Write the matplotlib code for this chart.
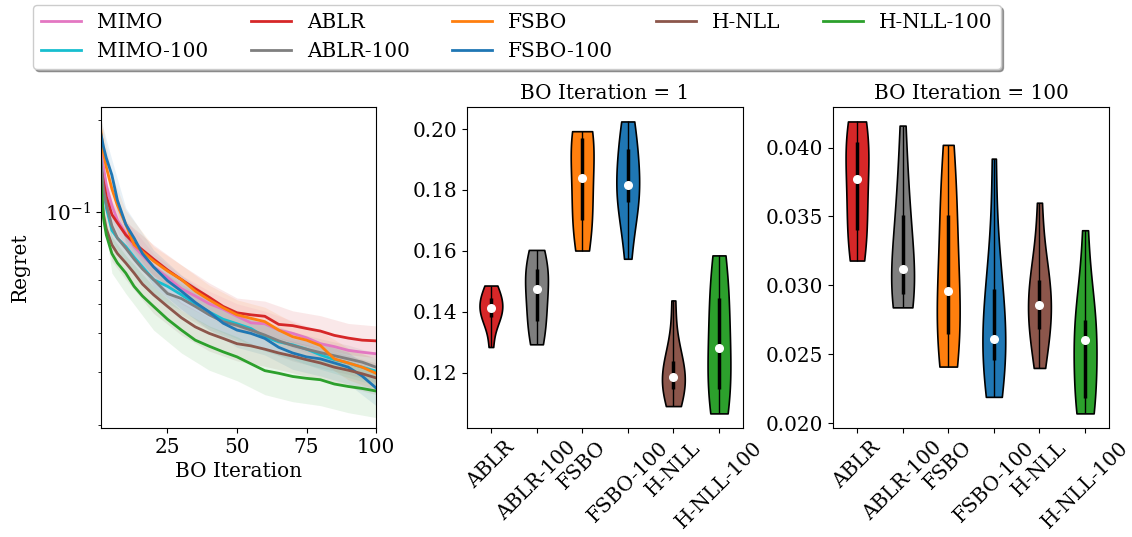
import numpy as np
import matplotlib
matplotlib.use('Agg')
import matplotlib.pyplot as plt
from matplotlib.ticker import NullFormatter, FormatStrFormatter

plt.rcParams['font.family'] = 'DejaVu Serif'
plt.rcParams['mathtext.fontset'] = 'dejavuserif'
plt.rcParams['font.size'] = 14.4

# methods and colours
methods = ['MIMO', 'MIMO-100', 'ABLR', 'ABLR-100', 'FSBO', 'FSBO-100', 'H-NLL', 'H-NLL-100']
colors = ['tab:pink', 'tab:cyan', 'tab:red', 'tab:gray', 'tab:orange', 'tab:blue', 'tab:brown', 'tab:green']

# regret curves (mean over tasks), read at these BO iterations
iters = np.array([1, 2, 3, 5, 7, 10, 13, 16, 20, 25, 30, 35, 40, 45, 50, 55, 60, 65, 70, 75, 80, 85, 90, 95, 100])
mimo = [0.158, 0.140, 0.122, 0.105, 0.094, 0.085, 0.077, 0.072, 0.066, 0.061, 0.056, 0.053, 0.050, 0.048, 0.0455,
        0.0433, 0.043, 0.041, 0.040, 0.0387, 0.037, 0.0362, 0.0352, 0.0347, 0.0343]
mimo_100 = [0.150, 0.118, 0.103, 0.087, 0.082, 0.077, 0.071, 0.066, 0.060, 0.057, 0.0535, 0.050, 0.047, 0.0445, 0.043,
            0.0415, 0.039, 0.0375, 0.0367, 0.0355, 0.034, 0.0328, 0.032, 0.031, 0.0301]
ablr = [0.141, 0.125, 0.112, 0.098, 0.092, 0.084, 0.079, 0.075, 0.070, 0.0645, 0.060, 0.056, 0.0525, 0.049, 0.0467,
        0.046, 0.0455, 0.0428, 0.0424, 0.0415, 0.0407, 0.0394, 0.0386, 0.038, 0.0378]
ablr_100 = [0.147, 0.118, 0.106, 0.090, 0.082, 0.076, 0.070, 0.065, 0.060, 0.054, 0.052, 0.049, 0.046, 0.0437, 0.0425,
            0.041, 0.0395, 0.0378, 0.0365, 0.0355, 0.0346, 0.0338, 0.033, 0.0322, 0.031]
fsbo = [0.186, 0.155, 0.140, 0.119, 0.105, 0.091, 0.078, 0.074, 0.069, 0.064, 0.060, 0.055, 0.0515, 0.0485, 0.046,
        0.0448, 0.0437, 0.041, 0.039, 0.038, 0.0365, 0.033, 0.032, 0.031, 0.0296]
fsbo_100 = [0.181, 0.163, 0.150, 0.132, 0.109, 0.091, 0.082, 0.073, 0.066, 0.0595, 0.055, 0.0505, 0.047, 0.0432, 0.041,
            0.040, 0.0385, 0.036, 0.0345, 0.0335, 0.033, 0.032, 0.031, 0.029, 0.0265]
hnll = [0.120, 0.098, 0.088, 0.078, 0.073, 0.068, 0.063, 0.058, 0.0535, 0.049, 0.045, 0.042, 0.040, 0.0385, 0.037,
        0.0364, 0.0355, 0.0345, 0.0337, 0.0328, 0.032, 0.031, 0.0303, 0.0295, 0.0286]
hnll_100 = [0.129, 0.095, 0.084, 0.073, 0.068, 0.063, 0.057, 0.053, 0.049, 0.0445, 0.041, 0.038, 0.0363, 0.0348, 0.0335,
            0.0318, 0.0302, 0.0296, 0.0289, 0.0285, 0.0282, 0.0273, 0.0268, 0.0264, 0.0259]
curves = [mimo, mimo_100, ablr, ablr_100, fsbo, fsbo_100, hnll, hnll_100]

# half-width of the shaded band at a subset of iterations
band_iters = np.array([1, 5, 10, 20, 30, 40, 50, 60, 70, 80, 90, 100])
band_err = [
    [0.015, 0.011, 0.009, 0.007, 0.006, 0.005, 0.0045, 0.0043, 0.004, 0.0038, 0.0036, 0.0035],
    [0.014, 0.010, 0.008, 0.007, 0.006, 0.005, 0.0045, 0.004, 0.0038, 0.0035, 0.0033, 0.0031],
    [0.010, 0.010, 0.009, 0.008, 0.007, 0.006, 0.0055, 0.0055, 0.005, 0.005, 0.0045, 0.0045],
    [0.012, 0.010, 0.008, 0.007, 0.006, 0.005, 0.0046, 0.0043, 0.004, 0.0038, 0.0036, 0.0034],
    [0.018, 0.013, 0.010, 0.008, 0.007, 0.006, 0.0055, 0.005, 0.0045, 0.0042, 0.0038, 0.0035],
    [0.020, 0.016, 0.012, 0.009, 0.007, 0.006, 0.005, 0.0045, 0.004, 0.004, 0.0037, 0.0033],
    [0.012, 0.009, 0.008, 0.007, 0.0055, 0.005, 0.0045, 0.0043, 0.004, 0.0038, 0.0036, 0.0034],
    [0.015, 0.010, 0.009, 0.008, 0.0065, 0.006, 0.0055, 0.005, 0.005, 0.005, 0.0048, 0.0047],
]

# regret per task at iteration 1 and 100, for the violins
violin_methods = ['ABLR', 'ABLR-100', 'FSBO', 'FSBO-100', 'H-NLL', 'H-NLL-100']
violin_colors = ['tab:red', 'tab:gray', 'tab:orange', 'tab:blue', 'tab:brown', 'tab:green']
regret_iter1 = [
    [0.1284, 0.1365, 0.1378, 0.1395, 0.1405, 0.1419, 0.1435, 0.1450, 0.1462, 0.1486],
    [0.1293, 0.1335, 0.1358, 0.1400, 0.1462, 0.1485, 0.1520, 0.1545, 0.1565, 0.1603],
    [0.1601, 0.1660, 0.1690, 0.1740, 0.1810, 0.1866, 0.1950, 0.1977, 0.1985, 0.1993],
    [0.1574, 0.1700, 0.1752, 0.1785, 0.1805, 0.1827, 0.1880, 0.1952, 0.1985, 0.2025],
    [0.1090, 0.1120, 0.1140, 0.1170, 0.1178, 0.1190, 0.1215, 0.1248, 0.1290, 0.1437],
    [0.1066, 0.1100, 0.1130, 0.1190, 0.1250, 0.1314, 0.1400, 0.1458, 0.1520, 0.1585],
]
regret_iter100 = [
    [0.0318, 0.0330, 0.0337, 0.0350, 0.0370, 0.0384, 0.0400, 0.0405, 0.0412, 0.0419],
    [0.0284, 0.0289, 0.0292, 0.0298, 0.0308, 0.0316, 0.0340, 0.0355, 0.0375, 0.0416],
    [0.0241, 0.0255, 0.0262, 0.0272, 0.0290, 0.0302, 0.0340, 0.0355, 0.0375, 0.0402],
    [0.0219, 0.0235, 0.0244, 0.0252, 0.0258, 0.0264, 0.0288, 0.0300, 0.0320, 0.0392],
    [0.0240, 0.0258, 0.0265, 0.0277, 0.0283, 0.0289, 0.0300, 0.0305, 0.0318, 0.0360],
    [0.0207, 0.0212, 0.0216, 0.0225, 0.0255, 0.0265, 0.0270, 0.0276, 0.0290, 0.0340],
]

fig = plt.figure(figsize=(11.32, 5.37), dpi=100)
ax1 = fig.add_axes([0.089, 0.203, 0.2432, 0.598])
ax2 = fig.add_axes([0.4125, 0.203, 0.2438, 0.598])
ax3 = fig.add_axes([0.7359, 0.203, 0.2438, 0.598])

#%% regret curves
mask = np.isin(iters, band_iters)
for name, col, y, err in zip(methods, colors, curves, band_err):
    y = np.array(y)
    err = np.array(err)
    ax1.plot(iters, y, color=col, lw=2, label=name)
    ax1.fill_between(band_iters, y[mask] - err, y[mask] + err, color=col, alpha=0.1, lw=0)
ax1.set_yscale('log')
ax1.set_xlim(1, 100)
ax1.set_ylim(0.0196, 0.2206)
ax1.set_xticks([25, 50, 75, 100])
ax1.yaxis.set_minor_formatter(NullFormatter())
ax1.set_xlabel('BO Iteration')
ax1.set_ylabel('Regret', labelpad=11)

#%% violins
def violins(ax, data, title):
    pos = np.arange(1, len(data) + 1)
    parts = ax.violinplot(data, positions=pos, widths=0.5, showextrema=False, bw_method=0.75)
    for pc, col in zip(parts['bodies'], violin_colors):
        pc.set_facecolor(col)
        pc.set_edgecolor('black')
        pc.set_linewidth(1.2)
        pc.set_alpha(1)
    q1, med, q3 = np.percentile(np.array(data), [25, 50, 75], axis=1)
    lo = np.min(data, axis=1)
    hi = np.max(data, axis=1)
    ax.vlines(pos, lo, hi, color='k', lw=1)
    ax.vlines(pos, q1, q3, color='k', lw=2.5)
    ax.scatter(pos, med, marker='o', color='white', s=30, zorder=3)
    ax.set_xticks(pos)
    ax.set_xticklabels(violin_methods, rotation=45)
    ax.set_title(title, fontsize=14.4)

violins(ax2, regret_iter1, 'BO Iteration = 1')
violins(ax3, regret_iter100, 'BO Iteration = 100')
ax2.set_yticks([0.12, 0.14, 0.16, 0.18, 0.20])
ax3.set_yticks([0.020, 0.025, 0.030, 0.035, 0.040])
ax3.yaxis.set_major_formatter(FormatStrFormatter('%.3f'))

handles, labels = ax1.get_legend_handles_labels()
fig.legend(handles, labels, loc='upper left', bbox_to_anchor=(0.029, 0.870, 0.855, 0.121),
           mode='expand', ncol=5, shadow=True, fontsize=14.4, borderaxespad=0., labelspacing=0.5)

plt.savefig('out.png', dpi=100)
